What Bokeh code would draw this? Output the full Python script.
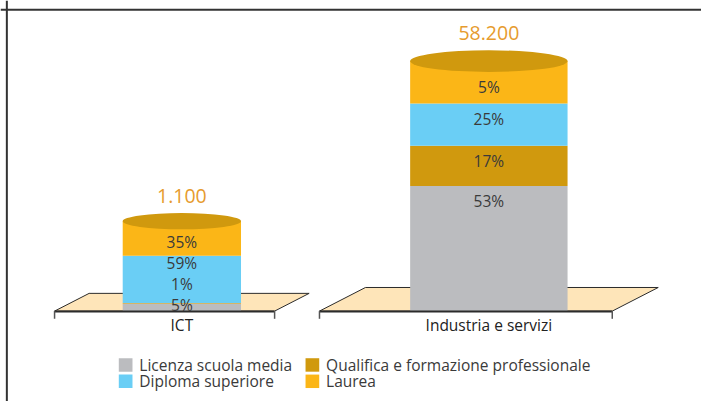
from bokeh.plotting import figure
from bokeh.models import Range1d, Span
from bokeh.core.properties import value
from bokeh.embed import file_html
from bokeh.resources import INLINE

# ---------------- data ----------------
categories = ["ICT", "Industria e servizi"]
totals = ["1.100", "58.200"]
series = ["Licenza scuola media", "Qualifica e formazione professionale",
          "Diploma superiore", "Laurea"]
colors = ["#BBBCBF", "#D0990E", "#6ACEF5", "#FBB617"]
# percentage labels, bottom to top
pct_ict = ["5%", "1%", "59%", "35%"]
pct_ind = ["53%", "17%", "25%", "5%"]
# drawn segment heights (chart units), bottom to top
seg_ict = [8, 0.5, 49, 36]
seg_ind = [130, 42, 44, 44]

# ---------------- layout / style ----------------
W, H = 701, 401          # figure size (fits the window)
REF_W, REF_H = 717, 417  # layout units span the whole picture
PX_X = 314.0             # layout units per category step
C0 = 185.5               # layout x of first category centre
FLOOR = 323.0            # layout y of floor
def dx(px):
    return (px - C0) / PX_X
def dy(py):
    return FLOOR - py

bar_w = [121 / PX_X, 161 / PX_X]
top_col = "#D0990E"
floor_col = "#FEE5B9"
edge_col = "#2b2b2b"
total_col = "#E69B2E"
txt_col = "#3a3a3a"
FONT = value("Open Sans")
FS = "15.5px"

p = figure(width=W, height=H, x_range=Range1d(dx(0), dx(REF_W)),
           y_range=Range1d(dy(REF_H), dy(0)), x_axis_type=None, y_axis_type=None,
           output_backend="svg", toolbar_location=None, min_border=0)
p.grid.visible = False
p.outline_line_color = None
p.background_fill_color = "white"
p.border_fill_color = "white"

# frame lines (left and top)
p.add_layout(Span(location=dx(6.5), dimension="height", line_color="#333333", line_width=2))
p.add_layout(Span(location=dy(9.5), dimension="width", line_color="#333333", line_width=2))

segs = [seg_ict, seg_ind]
pcts = [pct_ict, pct_ind]

for i, cat in enumerate(categories):
    cx = i
    w = bar_w[i]
    fw = w * 1.86
    hdx = 0.157 * fw
    dyp = 0.082 * fw * PX_X
    xs = [cx - fw / 2 - hdx / 2, cx + fw / 2 - hdx / 2, cx + fw / 2 + hdx / 2, cx - fw / 2 + hdx / 2]
    ys = [0, 0, dyp, dyp]
    p.patch(xs, ys, fill_color=floor_col, line_color=edge_col, line_width=1)

    # stacked cylinder
    b = 0.0
    bottoms, tops = [], []
    for h in segs[i]:
        bottoms.append(b)
        b += h
        tops.append(b)
    p.quad(left=[cx - w / 2] * 4, right=[cx + w / 2] * 4, bottom=bottoms, top=tops,
           fill_color=colors, line_color=None)
    total_h = tops[-1]
    eh = 0.14 * w * PX_X
    p.ellipse(x=[cx], y=[total_h], width=w, height=eh, fill_color=top_col, line_color=None)

    # floor front edge and end ticks
    p.segment(x0=[xs[0]], y0=[-0.5], x1=[xs[1]], y1=[-0.5], line_color=edge_col, line_width=2)
    p.segment(x0=[xs[0], xs[1]], y0=[0, 0], x1=[xs[0], xs[1]], y1=[-8, -8],
              line_color="#555555", line_width=1.5)

    # percentage labels: below the visible top edge of each segment, no overlap
    lab_y = []
    prev = None
    for k, t in enumerate(tops):
        vis_top = t - eh / 2 if k == len(tops) - 1 else t
        y = vis_top - 16
        y = max(y, 6) if prev is None else max(y, prev + 22)
        lab_y.append(y)
        prev = y
    p.text(x=[cx] * 4, y=lab_y, text=pcts[i], text_font=FONT, text_font_size=FS,
           text_align="center", text_baseline="middle", text_color=txt_col)

    # total label
    p.text(x=[cx], y=[total_h + eh / 2 + 18], text=[totals[i]], text_font=FONT,
           text_font_size="19.5px", text_align="center", text_baseline="middle",
           text_color=total_col)

# category labels
p.text(x=list(range(len(categories))), y=[-14] * len(categories), text=categories,
       text_font=FONT, text_font_size=FS, text_align="center",
       text_baseline="middle", text_color="#222222")

# legend (2 columns, row-major)
col_x = [121, 312]
row_y = [379, 396]
for k, name in enumerate(series):
    c, r = k % 2, k // 2
    p.rect(x=[dx(col_x[c] + 7)], y=[dy(row_y[r])], width=14 / PX_X, height=14,
           fill_color=colors[k], line_color=None)
    p.text(x=[dx(col_x[c] + 21)], y=[dy(row_y[r])], text=[name], text_font=FONT,
           text_font_size=FS, text_align="left", text_baseline="middle",
           text_color=txt_col)

open("out.html", "w").write(file_html(p, INLINE))
